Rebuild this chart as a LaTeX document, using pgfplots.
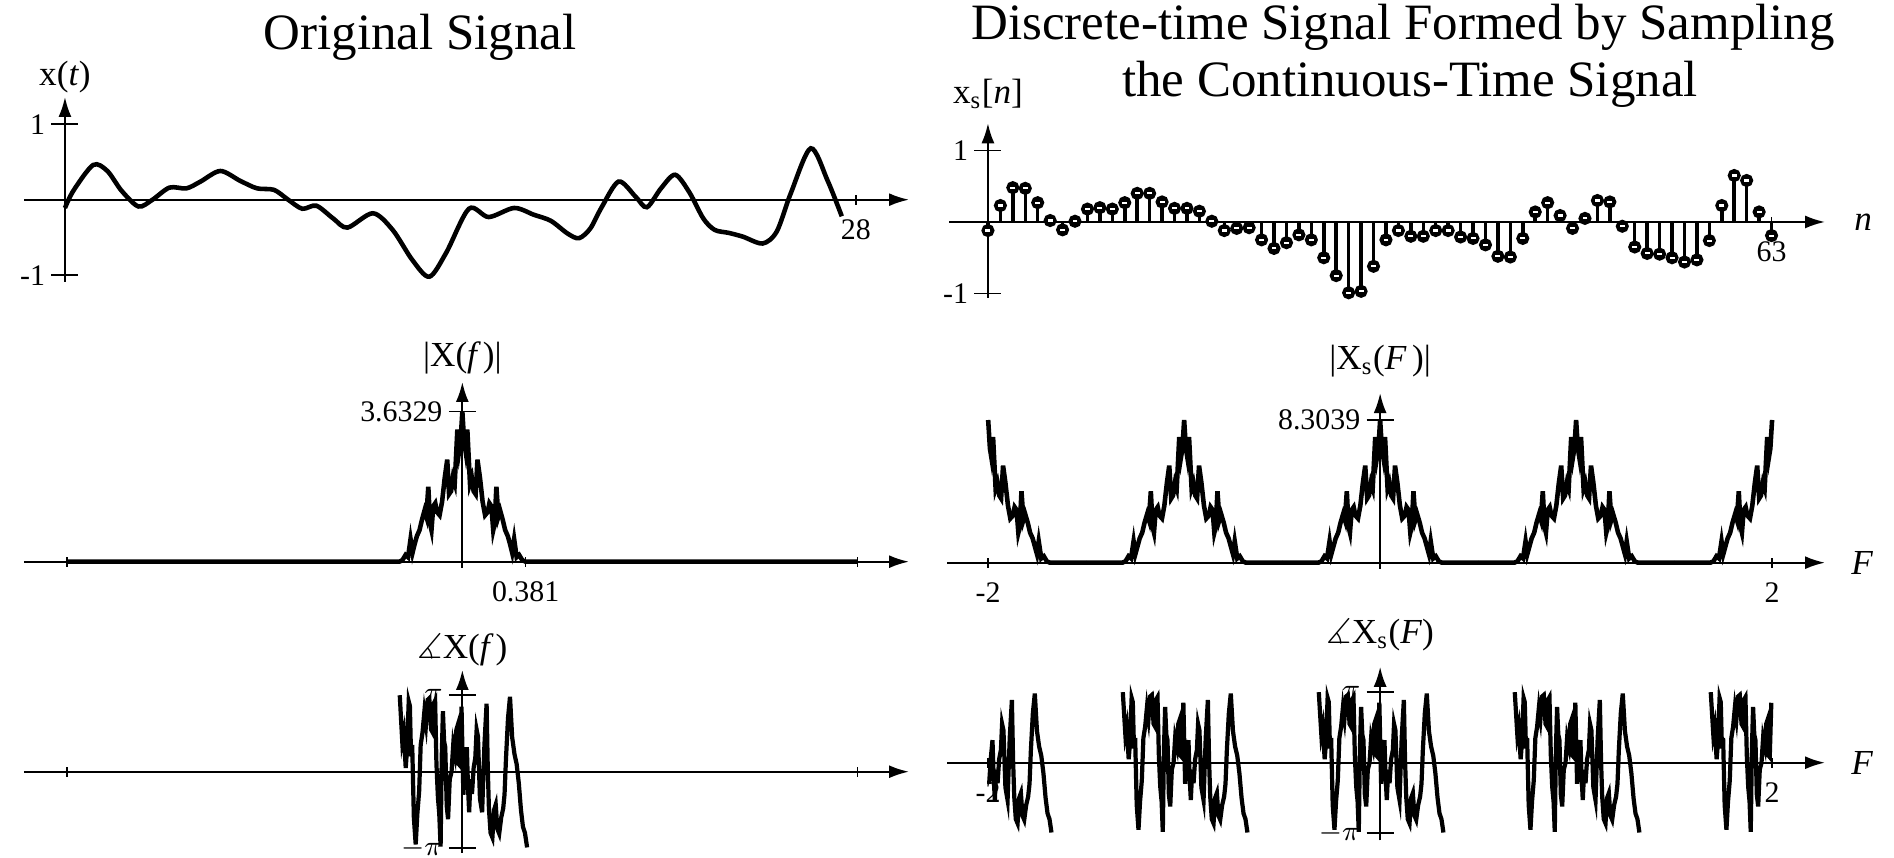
\documentclass[border=0pt]{standalone}
\usepackage{pgfplots}
\pgfplotsset{compat=1.18}
\usepackage{pgfplotstable}
\usepackage{amssymb}
\usepackage{fontspec}
\setmainfont{Liberation Serif}
\usetikzlibrary{arrows.meta}

% one period of |Xs(F)| (period 1 in F)
\pgfplotstableread{
F M
-0.500 0
-0.315 0
-0.299 0.083
-0.284 0.374
-0.271 0.249
-0.258 1.246
-0.249 0.498
-0.239 0.913
-0.227 1.412
-0.214 1.744
-0.202 2.325
-0.189 2.823
-0.180 2.491
-0.170 4.152
-0.161 2.076
-0.154 1.744
-0.145 3.072
-0.135 3.239
-0.126 2.740
-0.113 2.574
-0.101 3.322
-0.088 4.650
-0.076 5.647
-0.066 3.737
-0.057 3.903
-0.047 4.650
-0.038 4.318
-0.025 7.307
-0.016 6.145
-0.009 6.643
0.000 8.304
0.009 6.643
0.016 6.145
0.025 7.307
0.038 4.318
0.047 4.650
0.057 3.903
0.066 3.737
0.076 5.647
0.088 4.650
0.101 3.322
0.113 2.574
0.126 2.740
0.135 3.239
0.145 3.072
0.154 1.744
0.161 2.076
0.170 4.152
0.180 2.491
0.189 2.823
0.202 2.325
0.214 1.744
0.227 1.412
0.239 0.913
0.249 0.498
0.258 1.246
0.271 0.249
0.284 0.374
0.299 0.083
0.315 0
0.500 0
}\magS

% one period of the phase of Xs(F), in units of pi
\pgfplotstableread{
F P
-0.313 1.00
-0.300 0.40
-0.293 0.51
-0.283 0.05
-0.276 0.30
-0.268 0.92
-0.262 0.86
-0.256 0.20
-0.250 0.35
-0.242 -0.60
-0.233 -0.95
-0.225 -0.55
-0.216 -0.25
-0.208 0.35
-0.199 0.51
-0.190 0.78
-0.182 0.62
-0.173 0.94
-0.165 0.96
-0.156 0.55
-0.148 0.51
-0.142 0.90
-0.136 0.93
-0.129 0.10
-0.122 -0.34
-0.115 -0.55
-0.109 -0.98
-0.103 0.20
-0.097 0.79
-0.091 0.40
-0.085 0.32
-0.078 -0.45
-0.071 -0.62
-0.063 -0.10
-0.054 0.00
-0.046 0.35
-0.037 0.23
-0.030 0.55
-0.024 0.60
-0.018 0.10
-0.012 0.08
-0.004 0.85
0.005 -0.30
0.013 0.05
0.022 0.32
0.028 -0.20
0.034 -0.53
0.041 -0.10
0.048 -0.29
0.056 0.05
0.065 0.18
0.071 0.55
0.078 0.46
0.088 -0.35
0.099 -0.53
0.110 0.35
0.121 0.89
0.127 0.05
0.133 -0.48
0.141 -0.80
0.150 -0.86
0.158 -0.50
0.167 -0.43
0.175 -0.75
0.184 -0.81
0.194 -0.60
0.204 -0.48
0.211 -0.30
0.218 0.18
0.228 0.70
0.238 0.98
0.249 0.45
0.260 0.23
0.271 0.10
0.282 -0.15
0.293 -0.50
0.303 -0.72
0.313 -0.80
0.323 -0.99
}\phaseS

% phase of X(f), in units of pi
\pgfplotstableread{
f P
-0.377 1.00
-0.362 0.40
-0.353 0.51
-0.341 0.05
-0.333 0.30
-0.323 0.92
-0.316 0.86
-0.309 0.20
-0.302 0.35
-0.292 -0.60
-0.281 -0.95
-0.271 -0.55
-0.260 -0.25
-0.251 0.35
-0.240 0.51
-0.229 0.78
-0.219 0.62
-0.209 0.94
-0.199 0.96
-0.188 0.55
-0.178 0.51
-0.171 0.90
-0.164 0.93
-0.156 0.10
-0.147 -0.34
-0.139 -0.55
-0.131 -0.98
-0.124 0.20
-0.117 0.79
-0.110 0.40
-0.103 0.32
-0.094 -0.45
-0.086 -0.62
-0.076 -0.10
-0.065 0.00
-0.055 0.35
-0.045 0.23
-0.036 0.55
-0.029 0.60
-0.022 0.10
-0.014 0.08
-0.005 0.85
0.006 -0.30
0.016 0.05
0.027 0.32
0.034 -0.20
0.041 -0.53
0.049 -0.10
0.058 -0.29
0.068 0.05
0.078 0.18
0.086 0.55
0.094 0.46
0.106 -0.35
0.119 -0.53
0.133 0.35
0.146 0.89
0.153 0.05
0.160 -0.48
0.170 -0.80
0.181 -0.86
0.191 -0.50
0.201 -0.43
0.211 -0.75
0.222 -0.81
0.234 -0.60
0.246 -0.48
0.254 -0.30
0.263 0.18
0.275 0.70
0.287 0.98
0.300 0.45
0.314 0.23
0.327 0.10
0.340 -0.15
0.353 -0.50
0.365 -0.72
0.377 -0.80
0.390 -0.99
}\phaseX

% samples xs[n]
\pgfplotstableread{
n v
0 -0.12
1 0.23
2 0.48
3 0.47
4 0.27
5 0.02
6 -0.11
7 0.01
8 0.18
9 0.20
10 0.18
11 0.27
12 0.40
13 0.40
14 0.28
15 0.19
16 0.19
17 0.15
18 0.01
19 -0.12
20 -0.09
21 -0.08
22 -0.25
23 -0.37
24 -0.29
25 -0.18
26 -0.25
27 -0.50
28 -0.75
29 -0.99
30 -0.97
31 -0.62
32 -0.25
33 -0.12
34 -0.20
35 -0.20
36 -0.12
37 -0.12
38 -0.21
39 -0.23
40 -0.32
41 -0.48
42 -0.49
43 -0.23
44 0.14
45 0.27
46 0.09
47 -0.09
48 0.05
49 0.30
50 0.28
51 -0.06
52 -0.35
53 -0.44
54 -0.45
55 -0.50
56 -0.56
57 -0.53
58 -0.26
59 0.23
60 0.65
61 0.58
62 0.14
63 -0.19
}\samples

\pgfplotsset{
  sig/.style={
    axis lines=middle,
    scale only axis,
    anchor=south west,
    axis line style={line width=0.6pt,-{Latex[length=2mm,width=1.3mm]}},
    tick align=center,
    xtick style={/pgfplots/major tick length=0.1cm,line width=0.5pt,black},
    ytick style={/pgfplots/major tick length=0.27cm,line width=0.5pt,black},
    ticklabel style={font=\fontsize{8.5}{9}\selectfont},
    label style={font=\fontsize{10}{11}\selectfont},
    clip=false,
  },
}

\begin{document}
\begin{tikzpicture}
\useasboundingbox (0,0) rectangle (18.94,8.58);

\node[anchor=base,font=\fontsize{14.5}{16}\selectfont] at (4.20,8.08) {Original Signal};
\node[anchor=base,font=\fontsize{14.5}{16}\selectfont] at (14.03,8.18) {Discrete-time Signal Formed by Sampling};
\node[anchor=base,font=\fontsize{14.5}{16}\selectfont] at (14.10,7.61) {the Continuous-Time Signal};

% x(t)
\begin{axis}[sig, at={(0.24cm,5.76cm)}, width=8.85cm, height=1.85cm,
  xmin=-1.45, xmax=29.88, ymin=-1.09, ymax=1.36,
  xtick={28}, xticklabels={28}, ytick={-1,1}, yticklabels={-1,1},
  ylabel={x(\textit{t})},
  every axis y label/.style={at={(axis cs:0,1.36)},anchor=south,inner sep=1pt}]
\addplot[black, line width=1.3pt, smooth, tension=0.5] coordinates {
(0,-0.11) (0.3,0.12) (1.0,0.46) (1.5,0.38) (2.0,0.12) (2.6,-0.09) (3.1,0.0)
(3.7,0.16) (4.3,0.15) (4.8,0.24) (5.5,0.38) (6.2,0.25) (6.8,0.15) (7.4,0.13)
(7.9,0.0) (8.4,-0.12) (8.9,-0.08) (9.5,-0.25) (10.0,-0.37) (10.9,-0.18)
(11.6,-0.40) (12.3,-0.80) (12.9,-1.02) (13.5,-0.70) (14.3,-0.12) (15.0,-0.23)
(15.9,-0.11) (16.6,-0.20) (17.2,-0.28) (17.8,-0.45) (18.2,-0.51) (18.6,-0.38)
(19.0,-0.10) (19.6,0.24) (20.2,0.04) (20.6,-0.10) (21.1,0.15) (21.6,0.33)
(22.1,0.10) (22.6,-0.25) (23.0,-0.40) (23.5,-0.44) (24.0,-0.49) (24.7,-0.58)
(25.2,-0.42) (25.7,0.09) (26.4,0.68) (27.0,0.25) (27.5,-0.22)
};
\end{axis}

% |X(f)|
\begin{axis}[sig, at={(0.24cm,2.901cm)}, width=8.85cm, height=1.859cm,
  xmin=-2.64, xmax=2.69, ymin=-0.15, ymax=4.35,
  xtick={-2.38,0.381,2.38}, xticklabels={,0.381,}, ytick={3.6329}, yticklabels={3.6329},
  ylabel={|X(\textit{f\,})|},
  every axis y label/.style={at={(axis cs:0,4.35)},anchor=south,inner sep=2pt}]
\addplot[black, line width=1.3pt] coordinates {
(-2.380,0) (-0.380,0) (-0.361,0.036) (-0.342,0.163) (-0.327,0.109) (-0.312,0.545)
(-0.300,0.218) (-0.289,0.400) (-0.274,0.618) (-0.258,0.763) (-0.243,1.017)
(-0.228,1.235) (-0.217,1.090) (-0.205,1.816) (-0.194,0.908) (-0.186,0.763)
(-0.175,1.344) (-0.163,1.417) (-0.152,1.199) (-0.137,1.126) (-0.122,1.453)
(-0.106,2.034) (-0.091,2.470) (-0.080,1.635) (-0.068,1.707) (-0.057,2.034)
(-0.046,1.889) (-0.030,3.197) (-0.019,2.688) (-0.011,2.906) (0.000,3.633)
(0.011,2.906) (0.019,2.688) (0.030,3.197) (0.046,1.889) (0.057,2.034)
(0.068,1.707) (0.080,1.635) (0.091,2.470) (0.106,2.034) (0.122,1.453)
(0.137,1.126) (0.152,1.199) (0.163,1.417) (0.175,1.344) (0.186,0.763)
(0.194,0.908) (0.205,1.816) (0.217,1.090) (0.228,1.235) (0.243,1.017)
(0.258,0.763) (0.274,0.618) (0.289,0.400) (0.300,0.218) (0.312,0.545)
(0.327,0.109) (0.342,0.163) (0.361,0.036) (0.381,0) (2.380,0)
};
\end{axis}

% phase of X(f)
\begin{axis}[sig, at={(0.24cm,0.052cm)}, width=8.85cm, height=1.828cm,
  xmin=-2.64, xmax=2.69, ymin=-1.06, ymax=1.33,
  xtick={-2.38,2.38}, xticklabels={,}, ytick={-1,1}, yticklabels={$-\pi$,$\pi$},
  ylabel={$\measuredangle$X(\textit{f\,})},
  every axis y label/.style={at={(axis cs:0,1.33)},anchor=south,inner sep=1pt}]
\addplot[black, line width=1.2pt] table[x=f, y=P] {\phaseX};
\end{axis}

% xs[n]
\begin{axis}[sig, at={(9.49cm,5.602cm)}, width=8.76cm, height=1.745cm,
  xmin=-3.13, xmax=67.3, ymin=-1.06, ymax=1.38,
  xtick={63}, xticklabels={63}, ytick={-1,1}, yticklabels={-1,1},
  xlabel={\textit{n}}, ylabel={x\textsubscript{s}[\textit{n}]},
  every axis x label/.style={at={(axis cs:67.3,0)},anchor=west,xshift=0.17cm},
  every axis y label/.style={at={(axis cs:0,1.38)},anchor=south,inner sep=1pt,yshift=1mm}]
\addplot[black, ycomb, line width=1pt, mark=*, mark size=1.35pt, mark options={fill=black}]
  table[x=n, y=v] {\samples};
\addplot[white, only marks, mark=-, mark size=0.7pt, line width=0.6pt]
  table[x=n, y=v] {\samples};
\end{axis}

% |Xs(F)|
\begin{axis}[sig, at={(9.47cm,2.893cm)}, width=8.78cm, height=1.756cm,
  xmin=-2.21, xmax=2.27, ymin=-0.35, ymax=9.87,
  xtick={-2,2}, xticklabels={-2,2}, ytick={8.3039}, yticklabels={8.3039},
  xlabel={\textit{F}}, ylabel={|X\textsubscript{s}(\textit{F\,})|},
  every axis x label/.style={at={(axis cs:2.27,0)},anchor=west,xshift=0.14cm},
  every axis y label/.style={at={(axis cs:0,9.87)},anchor=south,inner sep=1pt,yshift=1.2mm}]
\foreach \k in {-2,-1,0,1,2} {
  \addplot[black, line width=1.3pt, restrict x to domain=-2:2]
    table[x expr=\thisrow{F}+\k, y=M] {\magS};
}
\end{axis}

% phase of Xs(F)
\begin{axis}[sig, at={(9.47cm,0.177cm)}, width=8.78cm, height=1.735cm,
  xmin=-2.21, xmax=2.27, ymin=-1.1, ymax=1.36,
  xtick={-2,2}, xticklabels={-2,2}, ytick={-1,1}, yticklabels={$-\pi$,$\pi$},
  xlabel={\textit{F}}, ylabel={$\measuredangle$X\textsubscript{s}(\textit{F})},
  every axis x label/.style={at={(axis cs:2.27,0)},anchor=west,xshift=0.14cm},
  every axis y label/.style={at={(axis cs:0,1.36)},anchor=south,inner sep=1pt,yshift=1.2mm}]
\foreach \k in {-2,-1,0,1,2} {
  \addplot[black, line width=1.2pt, restrict x to domain=-2:2]
    table[x expr=\thisrow{F}+\k, y=P] {\phaseS};
}
\end{axis}
\end{tikzpicture}
\end{document}
